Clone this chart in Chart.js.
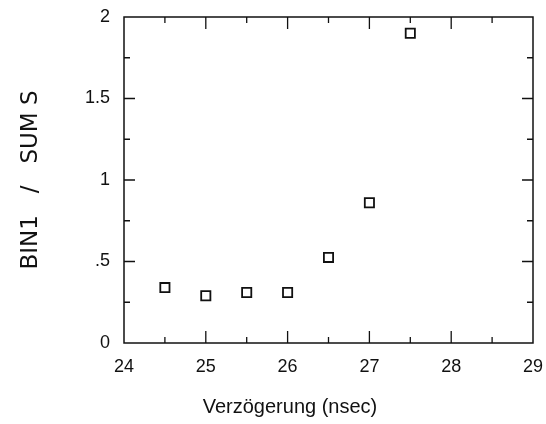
<!DOCTYPE html>
<html>
<head>
<meta charset="utf-8">
<script src="https://cdn.jsdelivr.net/npm/chart.js@4"></script>
<style>
  html, body { margin: 0; padding: 0; background: #fff; }
  #wrap { width: 546px; height: 424px; }
</style>
</head>
<body>
<div id="wrap"><canvas id="c" width="546" height="424"></canvas></div>
<script>
"use strict";

// values
const delay = [24.5, 25, 25.5, 26, 26.5, 27, 27.5];
const ratio = [0.34, 0.29, 0.31, 0.31, 0.525, 0.86, 1.9];
const xRange = [24, 29];
const yRange = [0, 2];
const xTitle = "Verzögerung (nsec)";
const yTitle = "BIN1   /   SUM S";

const ink = "#111";
const points = delay.map((x, i) => ({ x, y: ratio[i] }));

// frame + inward ticks on all four sides, and the x title (sits left of centre in the original)
const framePlugin = {
  id: "frame",
  afterDatasetsDraw(chart) {
    const { ctx, chartArea: a, scales: { x, y } } = chart;
    ctx.save();
    ctx.strokeStyle = ink;
    ctx.lineWidth = 1.5;
    ctx.strokeRect(a.left, a.top, a.right - a.left, a.bottom - a.top);
    ctx.lineWidth = 1.3;
    ctx.beginPath();
    for (let v = xRange[0] + 0.5; v < xRange[1]; v += 0.5) {
      const px = x.getPixelForValue(v);
      const len = Number.isInteger(v) ? 12 : 6;
      ctx.moveTo(px, a.bottom); ctx.lineTo(px, a.bottom - len);
      ctx.moveTo(px, a.top); ctx.lineTo(px, a.top + len);
    }
    for (let v = yRange[0] + 0.25; v < yRange[1]; v += 0.25) {
      const py = y.getPixelForValue(v);
      const len = Number.isInteger(v * 2) ? 11 : 6;
      ctx.moveTo(a.left, py); ctx.lineTo(a.left + len, py);
      ctx.moveTo(a.right, py); ctx.lineTo(a.right - len, py);
    }
    ctx.stroke();

    ctx.fillStyle = ink;
    ctx.font = "20px 'Liberation Sans'";
    ctx.textAlign = "center";
    ctx.textBaseline = "alphabetic";
    ctx.fillText(xTitle, 290, 413);
    ctx.restore();
  },
};

new Chart(document.getElementById("c"), {
  type: "scatter",
  data: {
    datasets: [
      { data: points, pointStyle: "rect", pointRadius: 6.5, pointHoverRadius: 6.5,
        borderColor: ink, backgroundColor: "#fff", borderWidth: 1.8 },
      { data: points, pointStyle: "circle", pointRadius: 1, pointHoverRadius: 1,
        borderColor: ink, backgroundColor: ink, borderWidth: 0.5 },
    ],
  },
  options: {
    responsive: false,
    animation: false,
    layout: { padding: { top: 17, right: 13, left: 0, bottom: 0 } },
    plugins: { legend: { display: false }, tooltip: { enabled: false } },
    scales: {
      x: {
        type: "linear", min: xRange[0], max: xRange[1],
        grid: { display: false, drawTicks: false }, border: { display: false },
        ticks: { stepSize: 1, padding: 13, color: ink,
                 font: { family: "Liberation Sans", size: 18 } },
        afterFit: (s) => { s.height = 81; s.paddingLeft = 0; s.paddingRight = 0; },
      },
      y: {
        type: "linear", min: yRange[0], max: yRange[1],
        grid: { display: false, drawTicks: false }, border: { display: false },
        ticks: { stepSize: 0.5, padding: 14, color: ink,
                 font: { family: "Liberation Sans", size: 18 },
                 callback: (v) => (v === 0 ? "0" : String(v).replace(/^0/, "")) },
        title: { display: true, text: yTitle, color: ink,
                 font: { family: "DejaVu Sans", size: 23 }, padding: { top: 17 } },
        afterFit: (s) => { s.width = 124; s.paddingTop = 0; s.paddingBottom = 0; },
      },
    },
  },
  plugins: [framePlugin],
});
</script>
</body>
</html>
